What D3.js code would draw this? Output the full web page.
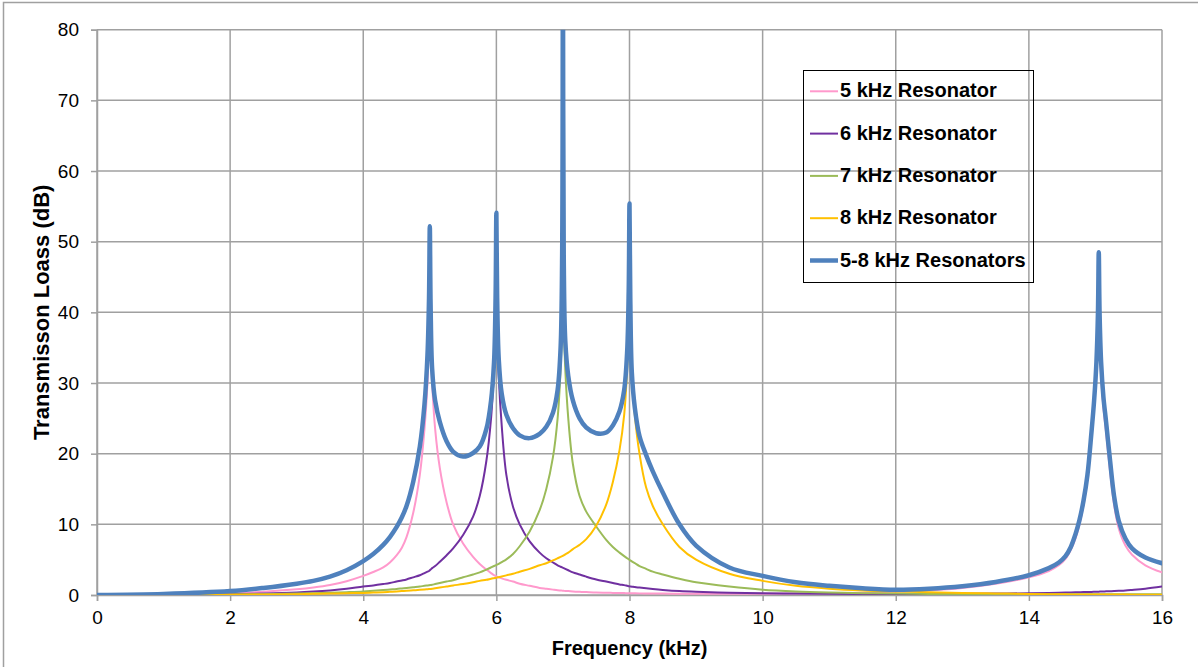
<!DOCTYPE html>
<html>
<head>
<meta charset="utf-8">
<script src="https://cdn.jsdelivr.net/npm/d3@7"></script>
<style>
  body { margin: 0; background: #fff; }
  svg { display: block; font-family: "Liberation Sans", Arial, sans-serif; }
</style>
</head>
<body>
<script>
// frequency grid (kHz), denser around each resonance
const freq = [
  0, 1, 2, 2.5, 3, 3.25, 3.5, 3.75, 4, 4.15, 4.3, 4.4, 4.5, 4.58,
  4.65, 4.75, 4.85, 4.92, 4.965, 4.988, 5.0, 5.012, 5.035, 5.08, 5.15, 5.25, 5.35, 5.5,
  5.65, 5.75, 5.85, 5.92, 5.965, 5.988, 6.0, 6.012, 6.035, 6.08, 6.15, 6.25, 6.35, 6.5,
  6.65, 6.75, 6.85, 6.92, 6.965, 6.988, 7.0, 7.012, 7.035, 7.08, 7.15, 7.25, 7.35, 7.5,
  7.65, 7.75, 7.85, 7.92, 7.965, 7.988, 8.0, 8.012, 8.035, 8.08, 8.15, 8.25, 8.35,
  8.5, 8.75, 9, 9.5, 10, 10.5, 11, 11.5, 12, 12.5, 13, 13.5, 14, 14.3,
  14.45, 14.55, 14.63, 14.7, 14.76, 14.82, 14.88, 14.94, 14.98, 15.015, 15.038, 15.05,
  15.062, 15.085, 15.12, 15.16, 15.22, 15.28, 15.35, 15.45, 15.55, 15.75, 16
];

// transmission loss (dB) per series, same order as freq
const tl5 = [
  0, 0.05, 0.25, 0.45, 0.8, 1.05, 1.4, 1.95, 2.7, 3.25, 3.9, 4.6, 5.6, 6.7,
  8.2, 11.6, 17, 23.5, 30, 36, 40, 36, 30, 23.5, 18, 13.2, 10, 7.3,
  5.4, 4.4, 3.6, 3.1, 2.8, 2.7, 2.6, 2.55, 2.5, 2.35, 2.15, 1.9, 1.6, 1.3,
  1.0, 0.88, 0.76, 0.68, 0.64, 0.62, 0.6, 0.59, 0.57, 0.55, 0.5, 0.45, 0.41, 0.35,
  0.32, 0.3, 0.28, 0.27, 0.26, 0.26, 0.25, 0.25, 0.25, 0.24, 0.23, 0.22, 0.21,
  0.2, 0.19, 0.18, 0.18, 0.18, 0.2, 0.24, 0.32, 0.45, 0.65, 1.0, 1.6, 2.5, 3.4,
  4.2, 5.1, 6.4, 8.0, 10.0, 12.7, 16.4, 22.5, 27, 31, 36, 40,
  36, 31, 26.5, 23, 17.5, 12.8, 9.4, 7.0, 5.7, 4.2, 3.2
];
const tl6 = [
  0, 0.03, 0.12, 0.2, 0.35, 0.48, 0.65, 0.88, 1.2, 1.35, 1.55, 1.7, 1.9, 2.05,
  2.2, 2.5, 2.8, 3.1, 3.3, 3.4, 3.5, 3.6, 3.8, 4.1, 4.7, 5.6, 6.6, 8.5,
  11.1, 14, 19, 25, 32, 38, 42, 38, 31, 24, 17, 12.5, 10, 7.6,
  6.0, 5.2, 4.6, 4.2, 4.0, 3.9, 3.85, 3.8, 3.7, 3.5, 3.2, 2.9, 2.6, 2.2,
  1.9, 1.7, 1.5, 1.4, 1.3, 1.25, 1.22, 1.2, 1.18, 1.12, 1.05, 0.95, 0.85,
  0.72, 0.55, 0.45, 0.33, 0.25, 0.2, 0.17, 0.15, 0.14, 0.15, 0.17, 0.2, 0.25, 0.3,
  0.33, 0.35, 0.37, 0.38, 0.39, 0.41, 0.42, 0.44, 0.45, 0.46, 0.47, 0.47,
  0.48, 0.49, 0.5, 0.52, 0.54, 0.56, 0.59, 0.64, 0.72, 0.9, 1.2
];
const tl7 = [
  0, 0.02, 0.07, 0.12, 0.2, 0.25, 0.32, 0.4, 0.5, 0.6, 0.7, 0.78, 0.85, 0.93,
  1.0, 1.1, 1.2, 1.3, 1.35, 1.38, 1.4, 1.42, 1.45, 1.55, 1.7, 1.9, 2.1, 2.5,
  2.9, 3.2, 3.6, 3.9, 4.1, 4.2, 4.25, 4.3, 4.4, 4.65, 5.05, 5.8, 6.9, 9.0,
  12, 15, 19.5, 25, 32, 39, 44, 39, 32, 25, 18.5, 14, 11.8, 9.7,
  7.8, 6.8, 6.0, 5.5, 5.2, 5.05, 4.95, 4.9, 4.75, 4.5, 4.1, 3.7, 3.3,
  2.9, 2.3, 1.8, 1.2, 0.75, 0.5, 0.35, 0.25, 0.2, 0.15, 0.12, 0.1, 0.1, 0.1,
  0.1, 0.1, 0.1, 0.1, 0.1, 0.1, 0.1, 0.1, 0.1, 0.1, 0.1, 0.1,
  0.1, 0.1, 0.1, 0.1, 0.1, 0.1, 0.1, 0.1, 0.1, 0.11, 0.12
];
const tl8 = [
  0, 0.01, 0.04, 0.07, 0.12, 0.16, 0.2, 0.25, 0.3, 0.35, 0.4, 0.45, 0.5, 0.55,
  0.6, 0.66, 0.73, 0.78, 0.82, 0.84, 0.85, 0.86, 0.88, 0.95, 1.05, 1.2, 1.35, 1.55,
  1.8, 2.0, 2.15, 2.3, 2.38, 2.42, 2.45, 2.48, 2.52, 2.62, 2.78, 3.0, 3.3, 3.7,
  4.2, 4.5, 4.9, 5.2, 5.4, 5.5, 5.55, 5.6, 5.75, 6.0, 6.5, 7.1, 7.9, 9.8,
  12.8, 16, 20.5, 25.5, 32, 38, 42, 38, 32, 25.5, 20, 15.2, 12.6,
  10, 6.8, 5.0, 3.0, 2.0, 1.3, 0.9, 0.65, 0.5, 0.38, 0.3, 0.22, 0.15, 0.12,
  0.09, 0.09, 0.08, 0.08, 0.08, 0.08, 0.07, 0.07, 0.07, 0.07, 0.07, 0.07,
  0.07, 0.07, 0.07, 0.06, 0.06, 0.06, 0.06, 0.06, 0.05, 0.05, 0.05
];
const tlAll = [
  0, 0.15, 0.55, 1.0, 1.6, 2.0, 2.6, 3.5, 4.8, 5.8, 7.1, 8.2, 9.6, 11.0,
  12.6, 16, 21, 27, 34, 42, 52.2, 41, 32, 27.5, 24.5, 21.8, 20.3, 19.6,
  20.1, 21, 23.5, 27.5, 33, 42, 54.1, 42, 33.5, 28.5, 25.5, 23.6, 22.6, 22.2,
  22.8, 23.8, 25.8, 29, 35, 48, 95, 48, 36, 31, 27.5, 25, 23.7, 22.9,
  23.0, 24, 26, 29, 34.5, 43, 55.4, 42, 31.5, 26.5, 22.5, 19.8, 17.5,
  14.5, 10, 7.0, 3.9, 2.7, 1.8, 1.3, 0.95, 0.75, 0.9, 1.25, 1.85, 2.8, 3.8,
  4.6, 5.5, 6.8, 8.6, 10.6, 13.3, 17, 23, 27.5, 33, 40, 48.5,
  40, 33, 28, 24.5, 19, 14, 10.5, 8.0, 6.6, 5.3, 4.5
];

const seriesNames = ["5 kHz Resonator", "6 kHz Resonator", "7 kHz Resonator", "8 kHz Resonator", "5-8 kHz Resonators"];
const seriesColors = ["#ff99cc", "#7030a0", "#9bbb59", "#ffc000", "#4f81bd"];
const seriesWidths = [2, 2, 2, 2, 4.5];
const xTicks = [0, 2, 4, 6, 8, 10, 12, 14, 16];
const yTicks = [0, 10, 20, 30, 40, 50, 60, 70, 80];

const width = 1198,
  height = 667,
  plot = { left: 97, right: 1162, top: 29.7, bottom: 595 };

const svg = d3.select("body")
  .append("svg")
  .attr("width", width)
  .attr("height", height);

// outer chart border
svg.append("rect")
  .attr("x", 3.5).attr("y", 2.5)
  .attr("width", width).attr("height", height)
  .attr("fill", "none")
  .attr("stroke", "#a0a0a0")
  .attr("stroke-width", 1.5);

const x = d3.scaleLinear().domain([0, 16]).range([plot.left, plot.right]);
const y = d3.scaleLinear().domain([0, 80]).range([plot.bottom, plot.top]);

// gridlines
const grid = svg.append("g").attr("class", "grid");
grid.selectAll("line.v")
  .data(xTicks)
  .join(enter => enter.append("line").attr("class", "v"))
  .attr("x1", d => x(d)).attr("x2", d => x(d))
  .attr("y1", plot.top).attr("y2", plot.bottom);
grid.selectAll("line.h")
  .data(yTicks)
  .join(enter => enter.append("line").attr("class", "h"))
  .attr("x1", plot.left).attr("x2", plot.right)
  .attr("y1", d => y(d)).attr("y2", d => y(d));
grid.selectAll("line")
  .attr("stroke", "#a0a0a0")
  .attr("stroke-width", 1.5);

// axes
const yAxis = svg.append("g")
  .attr("transform", `translate(${plot.left},0)`)
  .call(d3.axisLeft(y).tickValues(yTicks).tickSize(6).tickPadding(12));
const xAxis = svg.append("g")
  .attr("transform", `translate(0,${plot.bottom})`)
  .call(d3.axisBottom(x).tickValues(xTicks).tickSize(6).tickPadding(10));
[yAxis, xAxis].forEach(ax => {
  ax.select(".domain").attr("stroke", "#a0a0a0").attr("stroke-width", 1.5);
  ax.selectAll(".tick line").attr("stroke", "#a0a0a0").attr("stroke-width", 1.5);
  ax.selectAll(".tick text")
    .attr("fill", "#000")
    .style("font-size", "19px")
    .style("font-family", "'Liberation Sans', Arial, sans-serif");
});

// axis titles
svg.append("text")
  .attr("transform", `translate(49,${(plot.top + plot.bottom) / 2}) rotate(-90)`)
  .attr("text-anchor", "middle")
  .style("font-size", "22px")
  .style("font-weight", "bold")
  .text("Transmisson Loass (dB)");
svg.append("text")
  .attr("x", (plot.left + plot.right) / 2)
  .attr("y", 655)
  .attr("text-anchor", "middle")
  .style("font-size", "20px")
  .style("font-weight", "bold")
  .text("Frequency (kHz)");

// lines
svg.append("clipPath")
  .attr("id", "plot-clip")
  .append("rect")
  .attr("x", plot.left).attr("y", plot.top)
  .attr("width", plot.right - plot.left)
  .attr("height", plot.bottom - plot.top);

const allSeries = [tl5, tl6, tl7, tl8, tlAll];
const line = d3.line()
  .x((d, i) => x(freq[i]))
  .y(d => y(d))
  .curve(d3.curveCatmullRom.alpha(0.5));

svg.append("g")
  .attr("clip-path", "url(#plot-clip)")
  .selectAll("path")
  .data(allSeries)
  .join("path")
  .attr("d", d => line(d))
  .attr("fill", "none")
  .attr("stroke", (d, i) => seriesColors[i])
  .attr("stroke-width", (d, i) => seriesWidths[i])
  .attr("stroke-linejoin", "round")
  .attr("stroke-linecap", "round");

// legend
const legend = svg.append("g").attr("class", "legend");
legend.append("rect")
  .attr("x", 803.5).attr("y", 70.5)
  .attr("width", 230).attr("height", 212)
  .attr("fill", "none")
  .attr("stroke", "#000")
  .attr("stroke-width", 1);

const legendItem = legend.selectAll("g.item")
  .data(seriesNames)
  .join("g")
  .attr("class", "item")
  .attr("transform", (d, i) => `translate(810,${97.3 + i * 42.3})`);
legendItem.append("line")
  .attr("x1", 0).attr("x2", 28)
  .attr("y1", -6).attr("y2", -6)
  .attr("stroke", (d, i) => seriesColors[i])
  .attr("stroke-width", (d, i) => seriesWidths[i]);
legendItem.append("text")
  .attr("x", 30)
  .style("font-size", "20px")
  .style("font-weight", "bold")
  .text(d => d);
</script>
</body>
</html>
